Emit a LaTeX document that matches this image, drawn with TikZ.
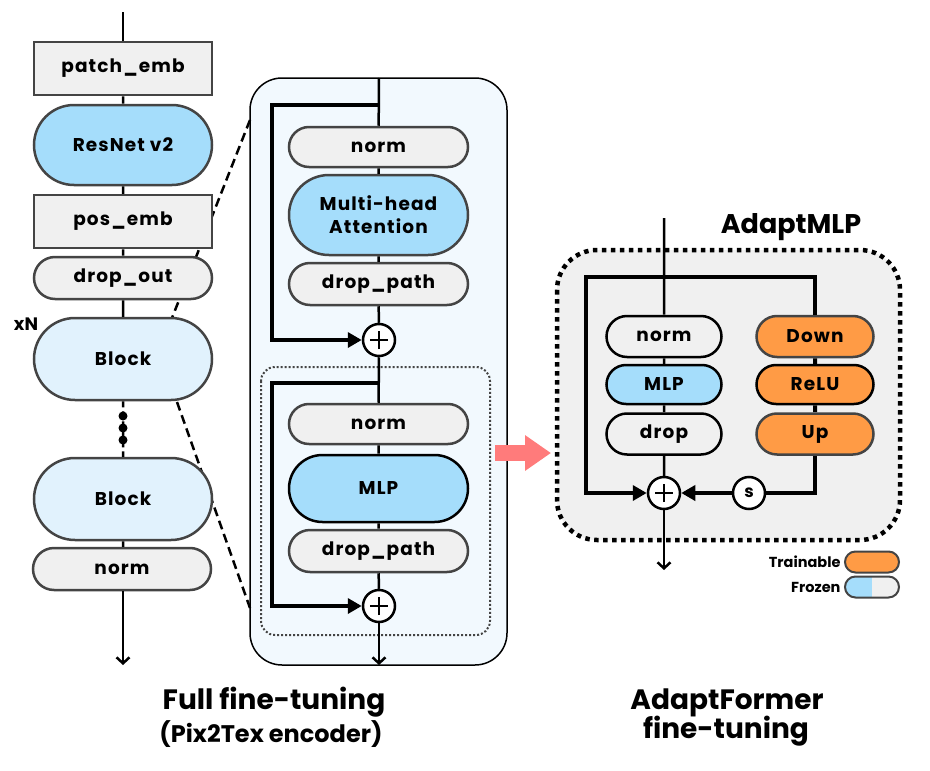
\documentclass[tikz,border=0pt]{standalone}
\usepackage{fontspec}
\setmainfont{Poppins}
\newfontfamily\boxfont[LetterSpace=6]{Poppins}
\newfontfamily\labelfont{Poppins}
\newfontfamily\titlefont{Poppins}
\usetikzlibrary{arrows.meta,shapes.misc}

\definecolor{boxgray}{HTML}{F0F0F0}
\definecolor{edgegray}{HTML}{444444}
\definecolor{frozenblue}{HTML}{A5DDFB}
\definecolor{blockblue}{HTML}{E1F2FD}
\definecolor{panelblue}{HTML}{F2F9FE}
\definecolor{trainorange}{HTML}{FF9B45}
\definecolor{arrowpink}{HTML}{FF7B7B}

\tikzset{
  layer/.style={draw=edgegray, line width=2.5pt, fill=boxgray, inner sep=0pt,
    align=center, font=\boxfont\bfseries\fontsize{18.5}{23}\selectfont},
  sqbox/.style={layer, rectangle, minimum width=178pt, minimum height=53pt},
  pill/.style={layer, rounded rectangle, minimum width=178pt, minimum height=42pt},
  smallpill/.style={layer, rounded rectangle, draw=black, minimum width=115pt, minimum height=41pt},
  keypill/.style={rounded rectangle, draw=edgegray, line width=2pt, minimum width=54pt,
    minimum height=21pt, inner sep=0pt},
  addnode/.style={circle, draw, line width=2.5pt, fill=white, minimum size=32pt, inner sep=0pt,
    path picture={
      \draw[line width=2.5pt] ([xshift=-9pt]path picture bounding box.center) -- ([xshift=9pt]path picture bounding box.center);
      \draw[line width=2.5pt] ([yshift=-9pt]path picture bounding box.center) -- ([yshift=9pt]path picture bounding box.center);}},
  flow/.style={line width=2.5pt},
  thickflow/.style={line width=4pt},
  skip/.style={line width=4pt, -{Triangle[length=14pt,width=15pt]}},
}

\begin{document}
\begin{tikzpicture}[x=1pt, y=-1pt, >={Straight Barb[length=6pt,width=13pt]}]
  \useasboundingbox (0,0) rectangle (930,771);

  % Panels
  \draw[fill=panelblue, line width=1.5pt, rounded corners=32pt] (250,78) rectangle (507,665);
  \draw[edgegray, line width=2pt, dotted, rounded corners=14pt] (261,367) rectangle (490,635);
  \draw[fill=boxgray, line width=4.5pt, dash pattern=on 4.5pt off 4.5pt, rounded corners=40pt] (557,250) rectangle (900,540);

  % Zoom lines
  \coordinate (zoomA) at (250,120);
  \coordinate (zoomB) at (172,318);
  \coordinate (zoomC) at (177,402);
  \coordinate (zoomD) at (250,608);
  \draw[line width=2.5pt, dash pattern=on 9pt off 5pt] (zoomA) -- (zoomB);
  \draw[line width=2.5pt, dash pattern=on 9pt off 5pt] (zoomC) -- (zoomD);

  % Encoder
  \node[sqbox] (patch) at (123,68.5) {patch\_emb};
  \node[pill, minimum height=80pt, fill=frozenblue] (resnet) at (123,145) {ResNet v2};
  \node[sqbox] (pos) at (123,221.5) {pos\_emb};
  \node[pill] (dropout) at (123,278) {drop\_out};
  \node[pill, minimum height=82pt, fill=blockblue] (block1) at (123,359) {Block};
  \node[pill, minimum height=82pt, fill=blockblue] (block2) at (123,499) {Block};
  \node[pill] (norm) at (122,569) {norm};
  \node[font=\labelfont\bfseries\fontsize{18}{18}\selectfont] (xn) at (26,324) {xN};

  \coordinate (intop) at (123,12);
  \coordinate (out) at (123,665);
  \draw[flow] (intop) -- (patch);
  \draw[flow] (patch) -- (resnet);
  \draw[flow] (resnet) -- (pos);
  \draw[flow] (pos) -- (dropout);
  \draw[flow] (dropout) -- (block1);
  \draw[flow, dash pattern=on 6pt off 4pt] (block1) -- (block2);
  \foreach \y in {416,428,440}
    \fill (123,\y) circle (4.5pt);
  \draw[flow] (block2) -- (norm.north -| block2.south);
  \draw[flow, ->] (norm.south -| out) -- (out);

  % Block detail
  \node[pill, minimum width=179pt, minimum height=40pt] (anorm) at (378.5,147) {norm};
  \node[pill, minimum width=179pt, minimum height=80pt, fill=frozenblue] (attn) at (378.5,215) {Multi-head\\Attention};
  \node[pill, minimum width=179pt] (apath) at (378.5,284) {drop\_path};
  \node[addnode] (add1) at (379,340) {};
  \node[pill, minimum width=179pt, minimum height=40pt] (mnorm) at (378.5,424) {norm};
  \node[pill, minimum width=179pt, minimum height=67pt, fill=frozenblue, draw=black] (mlp) at (378.5,488.5) {MLP};
  \node[pill, minimum width=179pt] (mpath) at (378.5,551) {drop\_path};
  \node[addnode] (add2) at (379,606) {};

  \coordinate (midtop) at (379,78);
  \coordinate (midout) at (379,665);
  \coordinate (split1) at (379,105);
  \coordinate (split2) at (379,383);
  \draw[flow] (midtop) -- (anorm);
  \draw[flow] (anorm) -- (attn);
  \draw[flow] (attn) -- (apath);
  \draw[flow] (apath) -- (add1);
  \draw[flow] (add1) -- (mnorm);
  \draw[flow] (mnorm) -- (mlp);
  \draw[flow] (mlp) -- (mpath);
  \draw[flow] (mpath) -- (add2);
  \draw[flow, ->] (add2) -- (midout);
  \draw[skip] (split1) -- ++(-107,0) |- (add1);
  \draw[skip] (split2) -- ++(-107,0) |- (add2);

  % Arrow to AdaptFormer
  \coordinate (pinkA) at (495,453);
  \coordinate (pinkB) at (551,453);
  \draw[arrowpink, line width=16pt, -{Triangle[length=26pt,width=34pt]}] (pinkA) -- (pinkB);

  % AdaptMLP
  \node[font=\labelfont\bfseries\fontsize{27}{27}\selectfont] (adapt) at (791,227) {AdaptMLP};
  \node[smallpill] (rnorm) at (664,336.5) {norm};
  \node[smallpill, fill=frozenblue, minimum height=39pt] (rmlp) at (664,384.5) {MLP};
  \node[smallpill] (rdrop) at (664,434) {drop};
  \node[smallpill, fill=trainorange, draw=edgegray, minimum width=117pt] (down) at (815,336.5) {Down};
  \node[smallpill, fill=trainorange, minimum width=117pt, minimum height=39pt] (relu) at (815,384.5) {ReLU};
  \node[smallpill, fill=trainorange, draw=edgegray, minimum width=117pt] (up) at (815,434) {Up};
  \node[addnode] (add3) at (664,493) {};
  \node[circle, draw, line width=2.5pt, fill=white, minimum size=32pt, inner sep=0pt,
    font=\labelfont\bfseries\fontsize{17}{17}\selectfont] (scale) at (749,493) {s};

  \coordinate (adtop) at (664,218);
  \coordinate (adout) at (664,570);
  \coordinate (split3) at (664,277);
  \draw[flow] (adtop) -- (rnorm);
  \draw[flow] (rnorm) -- (rmlp);
  \draw[flow] (rmlp) -- (rdrop);
  \draw[flow] (rdrop) -- (add3);
  \draw[thickflow] (split3) -| (down);
  \draw[skip] (split3) -- ++(-78,0) |- (add3);
  \draw[thickflow] (down) -- (relu);
  \draw[thickflow] (relu) -- (up);
  \draw[thickflow] (up) |- (scale);
  \draw[skip] (scale) -- (add3);
  \draw[flow, ->] (add3) -- (adout);

  % Legend
  \node[keypill, fill=trainorange] (train) at (872,562) {};
  \node[keypill, fill=boxgray, path picture={
    \fill[frozenblue] (path picture bounding box.south west) rectangle (path picture bounding box.north);}] (frozen) at (872,587) {};
  \node[anchor=east, font=\labelfont\bfseries\fontsize{14.5}{14.5}\selectfont] (trainlbl) at (train.west) {Trainable};
  \node[anchor=east, font=\labelfont\bfseries\fontsize{14.5}{14.5}\selectfont] (frozenlbl) at (frozen.west) {Frozen};

  % Titles
  \node[font=\titlefont\bfseries\fontsize{28}{28}\selectfont] (fulltitle) at (274,702) {Full fine-tuning};
  \node[font=\titlefont\bfseries\fontsize{24}{24}\selectfont] (fullsub) at (271,734) {(Pix2Tex encoder)};
  \node[font=\titlefont\bfseries\fontsize{28}{28}\selectfont] (adtitle) at (727,703) {AdaptFormer};
  \node[font=\titlefont\bfseries\fontsize{28}{28}\selectfont] (adsub) at (726,731) {fine-tuning};
\end{tikzpicture}
\end{document}
